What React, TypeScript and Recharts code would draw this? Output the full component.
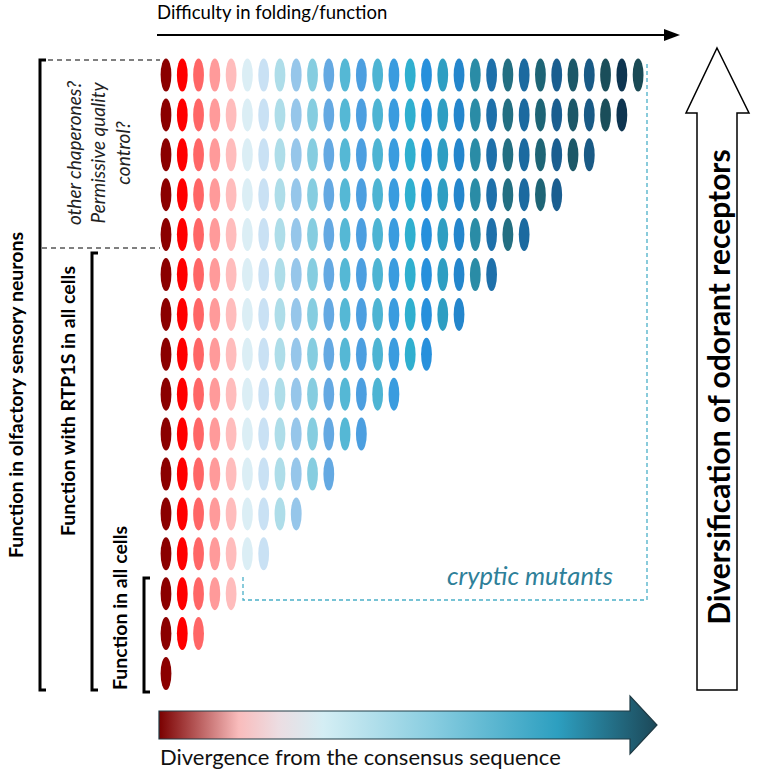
import { ScatterChart, Scatter, XAxis, YAxis } from "recharts";

// number of ellipses in each row, top row first
const rowCounts = [30, 29, 27, 25, 23, 21, 19, 17, 15, 13, 11, 9, 7, 5, 3, 1];

// colour of each column, left (consensus) to right (divergent)
const columnColors = [
    "#8b0000", "#ff0000", "#ff6666", "#ff9a9a", "#ffbcbc",
    "#dbeef5", "#c9e1f4", "#aedde9", "#96c6ea", "#86cde0",
    "#64a9e2", "#55b8d5", "#4c9fe0", "#4db4d3", "#3a9cdf",
    "#30afcf", "#2790dc", "#2e9ec2", "#2486cc", "#2a8ca6",
    "#1e70aa", "#236f82", "#1b6aa0", "#1e6475", "#1a5e90",
    "#1c5868", "#195a85", "#1a4e5a", "#0e3550", "#1a4a55",
];

const topLabel = "Difficulty in folding/function";
const bottomLabel = "Divergence from the consensus sequence";
const rightLabel = "Diversification of odorant receptors";
const bracketLabels = [
    "Function in olfactory sensory neurons",
    "Function with RTP1S in all cells",
    "Function in all cells",
];
const chaperoneLines = ["other chaperones?", "Permissive quality", "control?"];
const crypticLabel = "cryptic mutants";

const W = 762;
const H = 773;
// pixel layout of the grid
const COL0 = 166;
const COL_STEP = 16.28;
const ROW0 = 75;
const ROW_STEP = 39.9;

const xDomain: [number, number] = [-COL0 / COL_STEP, (W - COL0) / COL_STEP];
const yDomain: [number, number] = [-ROW0 / ROW_STEP, (H - ROW0) / ROW_STEP];

const points = rowCounts.flatMap((count, row) =>
    Array.from({ length: count }, (_, col) => ({
        x: col,
        y: row,
        color: columnColors[col],
    }))
);

const Ellipse = (props: any) => {
    const { cx, cy, payload } = props;
    if (cx == null || cy == null) return null;
    return <ellipse cx={cx} cy={cy} rx={5.4} ry={16.5} fill={payload.color} />;
};

const font = "Lato, 'Open Sans', sans-serif";

const Annotations = () => (
    <svg
        width={W}
        height={H}
        style={{ position: "absolute", left: 0, top: 0, pointerEvents: "none" }}
        fontFamily={font}
    >
        <defs>
            <linearGradient id="divergence" x1="0" x2="1" y1="0" y2="0">
                <stop offset="0" stopColor="#7a0000" />
                <stop offset="0.16" stopColor="#f9bcbc" />
                <stop offset="0.24" stopColor="#ecdde2" />
                <stop offset="0.33" stopColor="#d4eef4" />
                <stop offset="0.55" stopColor="#88cde0" />
                <stop offset="0.8" stopColor="#2d9fc0" />
                <stop offset="1" stopColor="#1c4858" />
            </linearGradient>
        </defs>

        {/* top arrow */}
        <text x={157} y={19} fontSize={18.5} fill="#000">
            {topLabel}
        </text>
        <line x1={157} y1={35} x2={666} y2={35} stroke="#000" strokeWidth={2} />
        <polygon points="664,29 680,35 664,41" fill="#000" />

        {/* brackets */}
        <path d="M46,60 H40 V690 H46" fill="none" stroke="#000" strokeWidth={3} />
        <path d="M98,253 H92 V690 H98" fill="none" stroke="#000" strokeWidth={3} />
        <path d="M150,578 H144 V692 H150" fill="none" stroke="#000" strokeWidth={3} />
        <line x1={48} y1={60} x2={160} y2={60} stroke="#000" strokeDasharray="5 4" />
        <line x1={42} y1={248} x2={160} y2={248} stroke="#000" strokeDasharray="5 4" />

        <text
            transform="translate(15,395) rotate(-90)"
            textAnchor="middle"
            dominantBaseline="central"
            fontSize={19.5}
            fontWeight="bold"
        >
            {bracketLabels[0]}
        </text>
        <text
            transform="translate(67,401) rotate(-90)"
            textAnchor="middle"
            dominantBaseline="central"
            fontSize={19.5}
            fontWeight="bold"
        >
            {bracketLabels[1]}
        </text>
        <text
            transform="translate(119,608) rotate(-90)"
            textAnchor="middle"
            dominantBaseline="central"
            fontSize={19.5}
            fontWeight="bold"
        >
            {bracketLabels[2]}
        </text>

        {chaperoneLines.map((line, i) => (
            <text
                key={line}
                transform={`translate(${73 + i * 24.5},153) rotate(-90)`}
                textAnchor="middle"
                dominantBaseline="central"
                fontSize={19}
                fontStyle="italic"
                fill="#222"
            >
                {line}
            </text>
        ))}

        {/* cryptic mutants box */}
        <path
            d="M243,577 V600 H647 V62"
            fill="none"
            stroke="#4bb0c8"
            strokeWidth={1.3}
            strokeDasharray="4 3"
        />
        <text x={613} y={585} textAnchor="end" fontSize={25.5} fontStyle="italic" fill="#2e8099">
            {crypticLabel}
        </text>

        {/* right hollow arrow */}
        <polygon
            points="717,48 749,113 737,113 737,690 697,690 697,113 686,113"
            fill="#fff"
            stroke="#000"
            strokeWidth={1.5}
        />
        <text
            transform="translate(718,387) rotate(-90)"
            textAnchor="middle"
            dominantBaseline="central"
            fontSize={30}
            fontWeight="bold"
        >
            {rightLabel}
        </text>

        {/* bottom gradient arrow */}
        <polygon
            points="159,711 630,711 630,696 657,725 630,754 630,739 159,739"
            fill="url(#divergence)"
            stroke="#1f3a44"
            strokeWidth={1.2}
        />
        <text x={160} y={765} fontSize={22} fill="#111">
            {bottomLabel}
        </text>
    </svg>
);

export default function App() {
    return (
        <div
            style={{
                position: "absolute",
                left: 0,
                top: 0,
                width: W,
                height: H,
                background: "#fff",
            }}
        >
            <ScatterChart
                width={W}
                height={H}
                margin={{ top: 0, right: 0, bottom: 0, left: 0 }}
            >
                <XAxis
                    type="number"
                    dataKey="x"
                    domain={xDomain}
                    allowDataOverflow
                    hide
                />
                <YAxis
                    type="number"
                    dataKey="y"
                    domain={yDomain}
                    reversed
                    allowDataOverflow
                    hide
                />
                <Scatter
                    data={points}
                    shape={<Ellipse />}
                    isAnimationActive={false}
                />
            </ScatterChart>
            <Annotations />
        </div>
    );
}
